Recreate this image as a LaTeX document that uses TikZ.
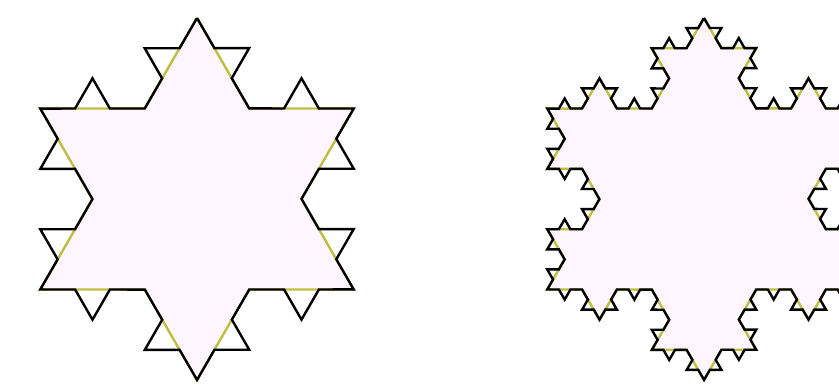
\documentclass[tikz,border=0pt]{standalone}
\usepackage{tikz}
\usetikzlibrary{calc,decorations.fractals}

\definecolor{flakefill}{RGB}{255,245,255}
\definecolor{oldedge}{RGB}{190,190,64}

\tikzset{
  oldlevel/.style={fill=flakefill, draw=oldedge, line width=2.4pt},
  newlevel/.style={draw=black, line width=2.4pt, line join=miter},
  decoration=Koch snowflake
}

\begin{document}
\begin{tikzpicture}[x=1pt,y=1pt]
\useasboundingbox (0,0) rectangle (839,389);
\clip (0,0) rectangle (839,389);

% left flake: level 1 filled, level 2 outline
\coordinate (ltop)   at (197,371);
\coordinate (lright) at ($(197,190)+(-30:181)$);
\coordinate (lleft)  at ($(197,190)+(210:181)$);
\path[oldlevel] decorate{ (ltop) -- (lright) -- (lleft) -- (ltop) };
\path[newlevel] decorate{ decorate{ (ltop) -- (lright) -- (lleft) -- (ltop) }};

% right flake: level 2 filled, level 3 outline
\coordinate (rtop)   at (704,371);
\coordinate (rright) at ($(704,190)+(-30:181)$);
\coordinate (rleft)  at ($(704,190)+(210:181)$);
\path[oldlevel] decorate{ decorate{ (rtop) -- (rright) -- (rleft) -- (rtop) }};
\path[newlevel] decorate{ decorate{ decorate{ (rtop) -- (rright) -- (rleft) -- (rtop) }}};
\end{tikzpicture}
\end{document}
